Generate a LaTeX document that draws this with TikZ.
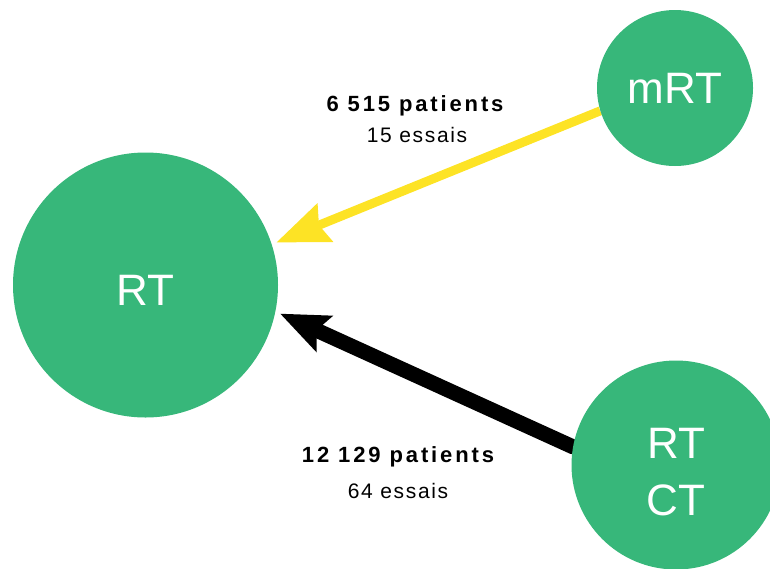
\documentclass[tikz,border=0pt]{standalone}
\usepackage{fontspec}
\setmainfont{Liberation Sans}
\newfontfamily\patfont[LetterSpace=13]{Liberation Sans}
\newfontfamily\essfont[LetterSpace=8]{Liberation Sans}
\usetikzlibrary{arrows.meta,backgrounds}
\definecolor{armgreen}{RGB}{55,183,122}
\definecolor{armyellow}{RGB}{253,227,37}
\tikzset{
    arm/.style={circle, fill=armgreen, text=white, inner sep=0pt,
        font=\fontsize{44}{57}\selectfont},
    npat/.style={anchor=base, font=\patfont\bfseries\fontsize{22}{24}\selectfont},
    ness/.style={anchor=base, font=\essfont\fontsize{21}{24}\selectfont}
}
\begin{document}
\begin{tikzpicture}[x=1pt, y=-1pt]
    \useasboundingbox (0,0) rectangle (770,568);
    % treatment arms
    \node[arm, minimum size=265pt, outer sep=5pt, text height=40pt, text depth=0pt] (rt) at (145.5,285) {RT};
    \node[arm, minimum size=156pt] (mrt) at (675,88) {mRT};
    \node[arm, minimum size=209pt, align=center] (rtct) at (676,465) {\rule{0pt}{43.5pt}RT\\CT};

    \begin{scope}[on background layer]
        \draw[armyellow, line width=9pt, -{Stealth[length=52pt, width=40pt, inset=6pt]}] (mrt.197.8)--(rt.18.9);
        \draw[black, line width=15pt, line cap=round, -{Stealth[length=48pt, width=38pt, inset=8pt]}] (rtct.170.6)--(rt.-12.3);
    \end{scope}

    % comparisons
    \node[npat] (pmrt) at (415,111) {6 515 patients};
    \node[ness] (emrt) at (417,142.5) {15 essais};
    \node[npat] (prtct) at (398,462) {12 129 patients};
    \node[ness] (ertct) at (398,498) {64 essais};
\end{tikzpicture}
\end{document}
